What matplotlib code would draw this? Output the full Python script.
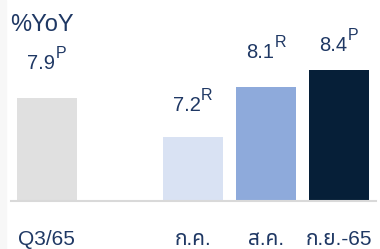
import matplotlib
matplotlib.use('Agg')
import matplotlib.pyplot as plt
from matplotlib.patches import Rectangle

plt.rcParams['font.family'] = ['Liberation Sans', 'Noto Sans Thai', 'DejaVu Sans']

# data
categories = ['Q3/65', 'ก.ค.', 'ส.ค.', 'ก.ย.-65']
positions = [0, 2, 3, 4]
values = [7.9, 7.2, 8.1, 8.4]
flags = ['P', 'R', 'R', 'P']

colors = ['#e0e0e0', '#d9e2f3', '#8eaadb', '#061f38']
label_gap = [29, 26, 29, 19]   # px between bar top and label baseline
navy = '#1f3864'
px = 0.72  # points per pixel at dpi 100

fig = plt.figure(figsize=(3.8, 2.49), dpi=100)
fig.patches.append(Rectangle((0, 0), 6 / 380, 1, transform=fig.transFigure,
                             color='#f7f7f7', zorder=0))

ax = fig.add_axes([11 / 380, 48.5 / 249, 365 / 380, 200.5 / 249])
ax.patch.set_alpha(0)

ax.bar(positions, values, width=0.82, color=colors)
ax.set_xlim(-0.49, 4.51)
ax.set_ylim(6.05, 9.66)

for s in ['top', 'right', 'left']:
    ax.spines[s].set_visible(False)
ax.spines['bottom'].set_color('#d9d9d9')
ax.spines['bottom'].set_linewidth(1.5)
ax.set_yticks([])
ax.set_xticks(positions)
ax.set_xticklabels(categories, fontsize=15, color=navy, va='baseline')
ax.tick_params(axis='x', length=0, pad=32)

for x, v, f, g in zip(positions, values, flags, label_gap):
    main = ax.annotate(f'{v:.1f}', (x, v), xytext=(-6 * px, g * px),
                       textcoords='offset points', ha='center', va='baseline',
                       fontsize=14.5, color=navy)
    ax.annotate(f, (1, 0), xycoords=main, xytext=(0.5 * px, 15 * px),
                textcoords='offset points', ha='left', va='baseline',
                fontsize=11.5, color=navy)

fig.text(10 / 380, 1 - 31 / 249, '%YoY', fontsize=17, color=navy, va='baseline')

fig.savefig('out.png', dpi=100)
